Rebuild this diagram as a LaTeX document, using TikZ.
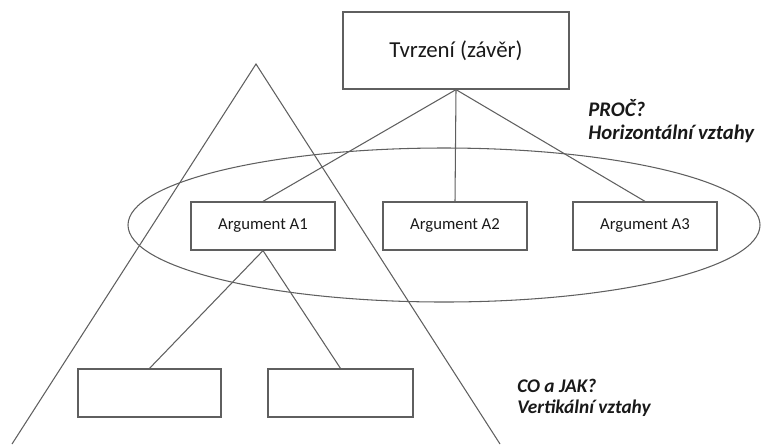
\documentclass[tikz,border=0pt]{standalone}
\usepackage{fontspec}
\setmainfont{Carlito}
\usepackage{tikz}
\usetikzlibrary{shapes}
\definecolor{linegray}{RGB}{95,95,95}
\definecolor{textdark}{RGB}{25,25,25}
\begin{document}
\begin{tikzpicture}
            \tikzset{box/.style={draw=linegray, line width=0.7pt, rectangle, minimum width=2.88cm, minimum height=0.96cm, inner sep=0pt, font=\fontsize{9.5}{11}\selectfont, text=textdark}}
            \tikzset{link/.style={linegray, line width=0.6pt}}
            \tikzset{note/.style={align=left, anchor=west, inner sep=0pt, font=\bfseries\itshape, text=textdark}}
            \useasboundingbox (0, 0) rectangle (15.22, -8.88);
            \draw[link] (0.24, -8.88) -- (5.12, -1.28) -- (10.0, -8.88);
            \draw[link] (8.88, -4.5) ellipse (6.32 and 1.54);
            \node[box, minimum width=4.52cm, minimum height=1.54cm, font=\fontsize{13}{15}\selectfont] (claim) at (9.12, -1.01) {Tvrzení (závěr)};
            \node[box] (argA) at (5.26, -4.52) {Argument A1};
            \node[box] (argB) at (9.10, -4.52) {Argument A2};
            \node[box] (argC) at (12.90, -4.52) {Argument A3};
            \node[box, minimum width=2.86cm] (subA) at (2.99, -7.86) {};
            \node[box, minimum width=2.90cm] (subB) at (6.81, -7.86) {};
            \draw[link] (claim.south) -- (argA.north);
            \draw[link] (claim.south) -- (argB.north);
            \draw[link] (claim.south) -- (argC.north);
            \draw[link] (argA.south) -- (subA.north);
            \draw[link] (argA.south) -- (subB.north);
            \node[note, font=\fontsize{11.8}{13}\selectfont\bfseries\itshape] (why) at (11.76, -2.42) {PROČ?\\Horizontální vztahy};
            \node[note, font=\fontsize{11}{12}\selectfont\bfseries\itshape] (how) at (10.34, -7.95) {CO a JAK?\\Vertikální vztahy};
        \end{tikzpicture}
\end{document}
